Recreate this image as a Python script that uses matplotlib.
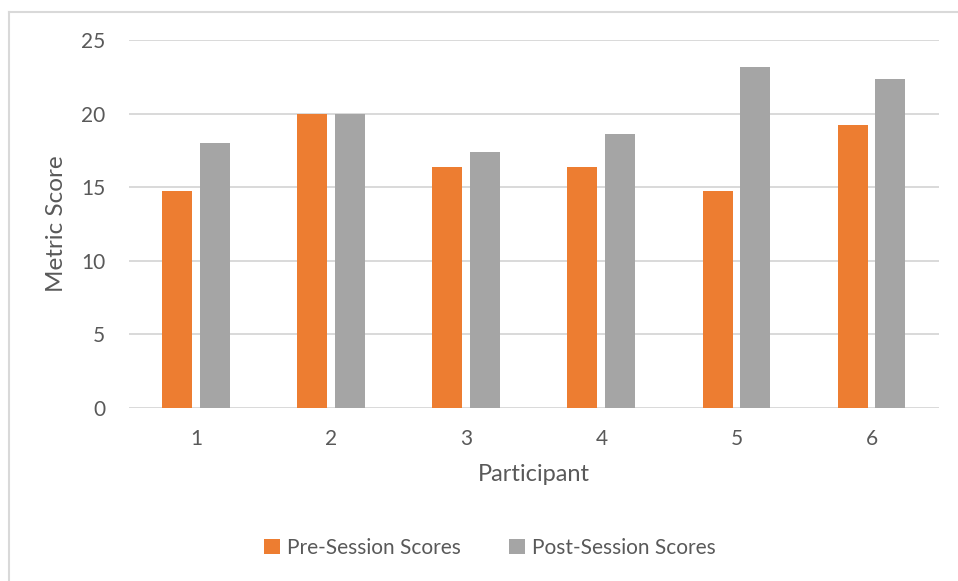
import matplotlib
matplotlib.use("Agg")
import matplotlib.pyplot as plt
from matplotlib.lines import Line2D
from matplotlib.patches import Patch
import numpy as np

participants = ["1", "2", "3", "4", "5", "6"]
pre_scores = [14.75, 20.0, 16.4, 16.4, 14.75, 19.25]
post_scores = [18.0, 20.0, 17.4, 18.6, 23.2, 22.35]
y_ticks = [0, 5, 10, 15, 20, 25]

ORANGE = "#ED7D31"
GREY = "#A5A5A5"
TEXT = "#595959"
GRID = "#D9D9D9"

plt.rcParams["font.family"] = ["Lato", "DejaVu Sans"]

W, H = 958, 581
fig = plt.figure(figsize=(W / 100, H / 100), dpi=100)
fig.patch.set_facecolor("white")

left, right, top, bottom = 128.7, 939, 40.3, 407.7
ax = fig.add_axes([left / W, 1 - bottom / H, (right - left) / W, (bottom - top) / H])

x = np.arange(1, len(participants) + 1)
offset = 0.14
width = 0.222
ax.bar(x - offset, pre_scores, width, color=ORANGE, zorder=3, label="Pre-Session Scores")
ax.bar(x + offset, post_scores, width, color=GREY, zorder=3, label="Post-Session Scores")

ax.set_xlim(0.5, len(participants) + 0.5)
ax.set_ylim(0, 25)
ax.set_yticks(y_ticks)
ax.set_xticks(x)
ax.set_xticklabels(participants)

ax.yaxis.grid(True, color=GRID, linewidth=1.4, zorder=0)
ax.set_axisbelow(True)
for s in ax.spines.values():
    s.set_visible(False)
ax.tick_params(axis="both", length=0, labelsize=15, labelcolor=TEXT)
ax.tick_params(axis="y", pad=17)
ax.tick_params(axis="x", pad=15)

ax.set_xlabel("Participant", fontsize=17, color=TEXT, labelpad=11)
ax.set_ylabel("Metric Score", fontsize=17.5, color=TEXT, labelpad=10)

handles = [Patch(facecolor=ORANGE), Patch(facecolor=GREY)]
fig.legend(handles, ["Pre-Session Scores", "Post-Session Scores"],
           loc="center", bbox_to_anchor=(490 / W, 1 - 548 / H), ncol=2,
           frameon=False, fontsize=15, labelcolor=TEXT,
           handlelength=0.75, handleheight=0.75, handletextpad=0.35,
           columnspacing=2.3)

# chart border (top and left edges)
bx, by = 8.5 / W, 1 - 11.5 / H
fig.add_artist(Line2D([bx, 1], [by, by], transform=fig.transFigure, color=GRID, linewidth=1.5))
fig.add_artist(Line2D([bx, bx], [by, 0], transform=fig.transFigure, color=GRID, linewidth=1.5))

fig.savefig("out.png", dpi=100, facecolor="white")
